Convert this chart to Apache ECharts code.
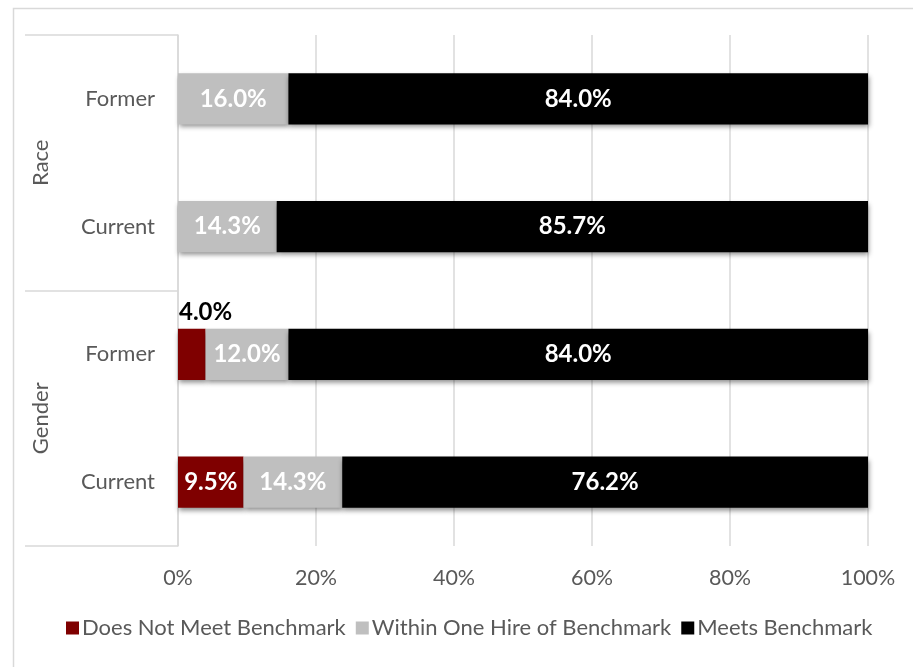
<!DOCTYPE html>
<html>
<head>
<meta charset="utf-8">
<script src="https://cdn.jsdelivr.net/npm/echarts@6/dist/echarts.min.js"></script>
<style>
  html, body { margin: 0; padding: 0; background: #ffffff; }
  #chart { width: 913px; height: 667px; }
</style>
</head>
<body>
<div id="chart"></div>
<script>
// Benchmark status of current vs. former faculty, grouped by race and gender
const categories = ['Current', 'Former', 'Current', 'Former'];   // bottom to top
const groups = ['Gender', 'Race'];                               // bottom to top
const seriesNames = ['Does Not Meet Benchmark', 'Within One Hire of Benchmark', 'Meets Benchmark'];
const doesNotMeet = [9.5, 4.0, 0, 0];
const withinOneHire = [14.3, 12.0, 14.3, 16.0];
const meets = [76.2, 84.0, 85.7, 84.0];
const tickValues = [0, 20, 40, 60, 80, 100];

const FONT = 'Lato, "Noto Sans", sans-serif';
const TEXT = '#595959';
const GRID = '#d9d9d9';
const colors = ['#7f0000', '#bfbfbf', '#000000'];

const fmt = v => v.toFixed(1) + '%';

const shadow = {
  shadowColor: 'rgba(0,0,0,0.45)',
  shadowBlur: 5,
  shadowOffsetX: 1,
  shadowOffsetY: 3
};

const baseLabel = {
  show: true,
  position: 'inside',
  color: '#ffffff',
  fontFamily: FONT,
  fontWeight: 'bold',
  fontSize: 24,
  formatter: p => fmt(p.value)
};

// Narrow segments get their label set above the bar, in dark text
function buildData(values) {
  return values.map(v => {
    if (v === 0) return { value: v, label: { show: false } };
    if (v < 5) {
      return {
        value: v,
        label: {
          show: true,
          position: [1, -5],
          align: 'left',
          verticalAlign: 'bottom',
          color: '#000000'
        }
      };
    }
    return { value: v };
  });
}

const seriesValues = [doesNotMeet, withinOneHire, meets];

const chart = echarts.init(document.getElementById('chart'), null, { renderer: 'canvas' });

chart.setOption({
  animation: false,
  backgroundColor: '#ffffff',
  textStyle: { fontFamily: FONT },
  graphic: [{
    type: 'rect',
    left: 11,
    top: 6,
    shape: { width: 1000, height: 1000 },
    style: { fill: 'none', stroke: GRID, lineWidth: 1.5 },
    z: -10,
    silent: true
  }],
  grid: { left: 178, right: 45, top: 35, bottom: 121, containLabel: false },
  legend: {
    data: seriesNames,
    bottom: 23,
    left: 61,
    icon: 'rect',
    itemWidth: 13,
    itemHeight: 13,
    itemGap: 10,
    textStyle: { color: TEXT, fontSize: 22, fontFamily: FONT, padding: [0, 0, 0, -2] }
  },
  xAxis: {
    type: 'value',
    min: tickValues[0],
    max: tickValues[tickValues.length - 1],
    interval: tickValues[1] - tickValues[0],
    axisLine: { show: false },
    axisTick: { show: false },
    axisLabel: { color: TEXT, fontSize: 21.5, fontFamily: FONT, margin: 21, formatter: '{value}%' },
    splitLine: { show: true, lineStyle: { color: GRID, width: 1.5 } }
  },
  yAxis: [{
    type: 'category',
    data: categories,
    position: 'left',
    axisLine: { show: true, lineStyle: { color: GRID, width: 1.5 } },
    axisTick: { show: false },
    axisLabel: { color: TEXT, fontSize: 22, fontFamily: FONT, margin: 23 },
    splitLine: { show: false }
  }, {
    type: 'category',
    data: groups,
    position: 'left',
    offset: 0,
    axisLine: { show: false },
    axisTick: { show: true, length: 153, lineStyle: { color: GRID, width: 1.5 } },
    axisLabel: { color: TEXT, fontSize: 22, fontFamily: FONT, rotate: 90, margin: 126 },
    splitLine: { show: false }
  }],
  series: seriesValues.map((vals, i) => ({
    name: seriesNames[i],
    type: 'bar',
    stack: 'total',
    yAxisIndex: 0,
    barWidth: '40%',
    itemStyle: Object.assign({ color: colors[i] }, shadow),
    label: baseLabel,
    data: buildData(vals)
  }))
});
</script>
</body>
</html>
